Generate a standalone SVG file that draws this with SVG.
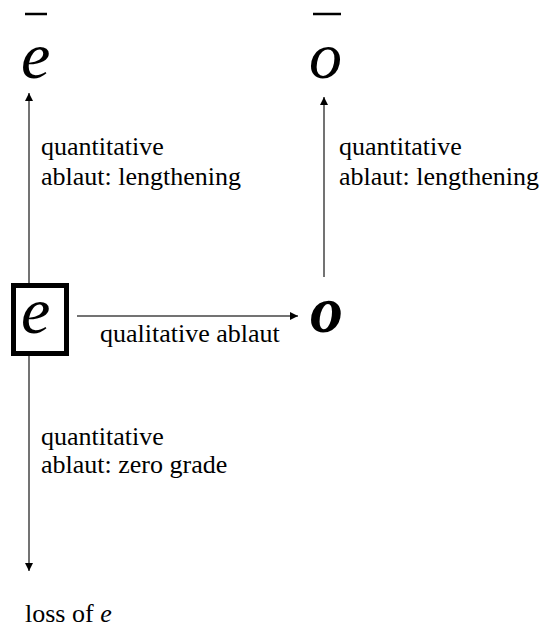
<svg xmlns="http://www.w3.org/2000/svg" width="543" height="629" viewBox="0 0 543 629">
<defs>
<marker id="ah" viewBox="0 0 10 10" refX="10" refY="5" markerWidth="8" markerHeight="8" markerUnits="userSpaceOnUse" orient="auto">
<path d="M0,0 L10,5 L0,10 z" fill="#000"/>
</marker>
</defs>
<style>
.lbl{font-family:"Liberation Serif","Times New Roman",serif;font-size:26px;fill:#000}
.big{font-family:"Liberation Serif","Times New Roman",serif;font-style:italic;font-size:66px;fill:#000}
.edge{stroke:#444;stroke-width:1.5;fill:none;marker-end:url(#ah)}
.mac{stroke:#000;stroke-width:2.5}
</style>
<rect width="543" height="629" fill="#fff"/>
<g id="connectors">
<line class="edge" x1="29" y1="292" x2="29" y2="93"/>
<line class="edge" x1="29" y1="350" x2="29" y2="571"/>
<line class="edge" x1="77" y1="316" x2="298" y2="316"/>
<line class="edge" x1="324" y1="277" x2="324" y2="97"/>
</g>
<g id="node-e-long">
<line class="mac" x1="25" y1="14" x2="47" y2="14"/>
<text class="big" x="21" y="78">e</text>
</g>
<g id="node-o-long">
<line class="mac" x1="313" y1="14" x2="341" y2="14"/>
<text class="big" x="309" y="78">o</text>
</g>
<g id="node-e">
<rect x="13.5" y="285.5" width="53" height="68" fill="#fff" stroke="#000" stroke-width="5"/>
<text class="big" x="21" y="333">e</text>
</g>
<g id="node-o">
<text class="big" x="310" y="332" font-weight="bold">o</text>
</g>
<g id="labels">
<text class="lbl" x="41" y="155">quantitative</text>
<text class="lbl" x="41" y="185">ablaut: lengthening</text>
<text class="lbl" x="339" y="155">quantitative</text>
<text class="lbl" x="339" y="185">ablaut: lengthening</text>
<text class="lbl" x="100" y="342">qualitative ablaut</text>
<text class="lbl" x="41" y="445">quantitative</text>
<text class="lbl" x="41" y="473">ablaut: zero grade</text>
<text class="lbl" x="25" y="622">loss of <tspan font-style="italic">e</tspan></text>
</g>
</svg>
